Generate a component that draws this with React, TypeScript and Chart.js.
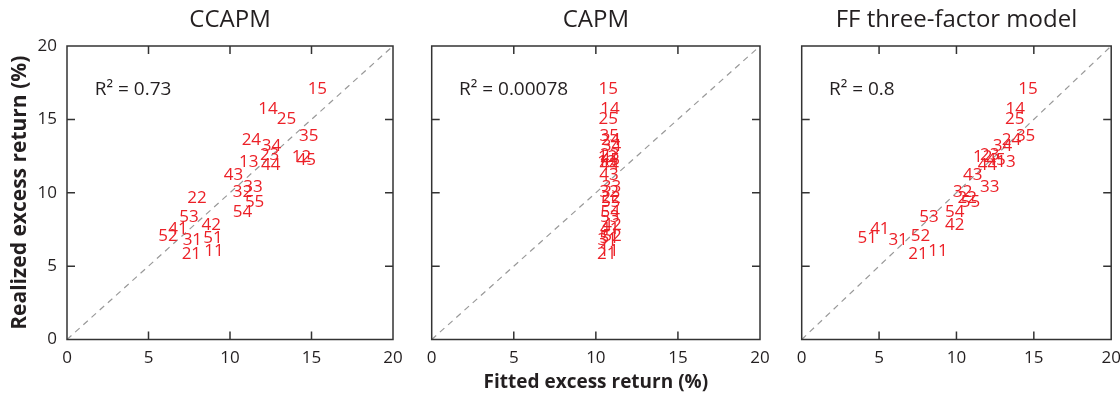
import React, { useEffect, useRef } from 'react';
import { Chart, registerables } from 'chart.js';

Chart.register(...registerables);

// ---------- data ----------
const portfolios = ['11','12','13','14','15','21','22','23','24','25','31','32','33','34','35','41','42','43','44','45','51','52','53','54','55'];

const realized = [6.00, 12.41, 12.07, 15.70, 17.06, 5.84, 9.65, 12.55, 13.59, 15.02, 6.80, 10.03, 10.37, 13.20, 13.84, 7.54, 7.77, 11.17, 11.85, 12.23, 6.91, 7.02, 8.34, 8.67, 9.35];

const fittedCCAPM = [9.02, 14.38, 11.15, 12.33, 15.36, 7.63, 7.98, 12.43, 11.31, 13.46, 7.69, 10.76, 11.41, 12.54, 14.83, 6.81, 8.85, 10.22, 12.50, 14.68, 8.96, 6.20, 7.48, 10.76, 11.51];

const fittedCAPM = [10.80, 10.72, 10.68, 10.86, 10.76, 10.66, 10.92, 10.85, 10.90, 10.76, 10.70, 10.82, 10.95, 10.95, 10.82, 10.85, 10.98, 10.80, 10.82, 10.88, 10.82, 10.98, 10.85, 10.88, 10.90];

const fittedFF = [8.81, 11.70, 13.20, 13.80, 14.62, 7.52, 10.70, 12.15, 13.55, 13.76, 6.23, 10.40, 12.15, 12.97, 14.47, 5.05, 9.89, 11.05, 12.00, 12.55, 4.23, 7.68, 8.23, 9.89, 10.90];

const panelTitles = ['CCAPM', 'CAPM', 'FF three-factor model'];
const r2Labels = ['R\u00B2 = 0.73', 'R\u00B2 = 0.00078', 'R\u00B2 = 0.8'];
const fittedSets = [fittedCCAPM, fittedCAPM, fittedFF];
const axisMin = 0;
const axisMax = 20;
const tickStep = 5;
const xAxisTitle = 'Fitted excess return (%)';
const yAxisTitle = 'Realized excess return (%)';

// ---------- style ----------
const FONT = "'Open Sans', 'Noto Sans', sans-serif";
const DARK = '#231f20';
const RED = '#ec2027';

const panelLayout = [
  { left: 0, width: 412, axisW: 67, padRight: 19, r2x: 1.7 },
  { left: 400, width: 380, axisW: 31.7, padRight: 20, r2x: 1.66 },
  { left: 770, width: 350, axisW: 31.7, padRight: 8.8, r2x: 1.76 },
];
const r2y = 17.0;

const framePlugin = {
  id: 'frameAndLabels',
  afterDatasetsDraw(chart: any, _args: any, opts: any) {
    const { ctx, chartArea } = chart;
    const xs = chart.scales.x;
    const ys = chart.scales.y;
    ctx.save();
    ctx.strokeStyle = '#333';
    ctx.lineWidth = 1.5;
    const tl = 8;
    for (let v = axisMin + tickStep; v < axisMax; v += tickStep) {
      const px = xs.getPixelForValue(v);
      const py = ys.getPixelForValue(v);
      ctx.beginPath();
      ctx.moveTo(px, chartArea.bottom); ctx.lineTo(px, chartArea.bottom - tl);
      ctx.moveTo(px, chartArea.top); ctx.lineTo(px, chartArea.top + tl);
      ctx.moveTo(chartArea.left, py); ctx.lineTo(chartArea.left + tl, py);
      ctx.moveTo(chartArea.right, py); ctx.lineTo(chartArea.right - tl, py);
      ctx.stroke();
    }
    ctx.strokeRect(chartArea.left, chartArea.top, chartArea.right - chartArea.left, chartArea.bottom - chartArea.top);

    const meta = chart.getDatasetMeta(1);
    ctx.font = `17px ${FONT}`;
    ctx.fillStyle = RED;
    ctx.textAlign = 'center';
    ctx.textBaseline = 'middle';
    meta.data.forEach((el: any, i: number) => {
      ctx.fillText(portfolios[i], el.x, el.y);
    });

    ctx.font = `19px ${FONT}`;
    ctx.fillStyle = DARK;
    ctx.textAlign = 'left';
    ctx.fillText(opts.r2, xs.getPixelForValue(opts.r2x), ys.getPixelForValue(r2y));
    ctx.restore();
  },
};

function Panel({ index }: { index: number }) {
  const ref = useRef<HTMLCanvasElement | null>(null);
  const lay = panelLayout[index];
  useEffect(() => {
    if (!ref.current) return;
    const fitted = fittedSets[index];
    const chart = new Chart(ref.current, {
      type: 'scatter',
      data: {
        datasets: [
          {
            type: 'line',
            data: [{ x: axisMin, y: axisMin }, { x: axisMax, y: axisMax }],
            borderColor: '#999999',
            borderWidth: 1.2,
            borderDash: [6, 5],
            pointRadius: 0,
            fill: false,
          } as any,
          {
            data: fitted.map((f, i) => ({ x: f, y: realized[i] })),
            pointRadius: 0,
            showLine: false,
          },
        ],
      },
      options: {
        animation: false,
        responsive: false,
        devicePixelRatio: 1,
        layout: { padding: { left: 0, right: lay.padRight, top: 0, bottom: 0 } },
        plugins: {
          legend: { display: false },
          tooltip: { enabled: false },
          title: {
            display: true,
            fullSize: false,
            text: panelTitles[index],
            color: DARK,
            font: { family: FONT, size: 24, weight: 'normal', lineHeight: 1.2 },
            padding: { top: 6, bottom: 11.2 },
          },
          frameAndLabels: { r2: r2Labels[index], r2x: lay.r2x },
        } as any,
        scales: {
          x: {
            type: 'linear',
            min: axisMin,
            max: axisMax,
            grid: { display: false },
            border: { display: false },
            ticks: {
              stepSize: tickStep,
              color: DARK,
              padding: 0,
              font: { family: FONT, size: 17 },
            },
            title: {
              display: index === 1,
              text: xAxisTitle,
              color: DARK,
              font: { family: FONT, size: 19, weight: 'bold' },
              padding: { top: 0, bottom: 0 },
            },
            afterFit: (s: any) => { s.height = 54.5; s.paddingLeft = 0; s.paddingRight = 0; },
          },
          y: {
            type: 'linear',
            min: axisMin,
            max: axisMax,
            grid: { display: false },
            border: { display: false },
            ticks: {
              display: index === 0,
              stepSize: tickStep,
              color: DARK,
              padding: 2,
              font: { family: FONT, size: 17 },
            },
            title: {
              display: index === 0,
              text: yAxisTitle,
              color: DARK,
              font: { family: FONT, size: 21, weight: 'bold' },
              padding: { top: 7.5, bottom: 0 },
            },
            afterFit: (s: any) => { s.width = lay.axisW; s.paddingTop = 0; s.paddingBottom = 0; },
          },
        },
      },
      plugins: [framePlugin],
    });
    return () => chart.destroy();
  }, [index]);
  return (
    <canvas
      ref={ref}
      width={lay.width}
      height={394}
      style={{ position: 'absolute', left: lay.left, top: 0, width: lay.width, height: 394 }}
    />
  );
}

export default function App() {
  return (
    <div style={{ position: 'absolute', left: 0, top: 0, width: 1120, height: 394, background: '#fff' }}>
      <Panel index={0} />
      <Panel index={1} />
      <Panel index={2} />
    </div>
  );
}
